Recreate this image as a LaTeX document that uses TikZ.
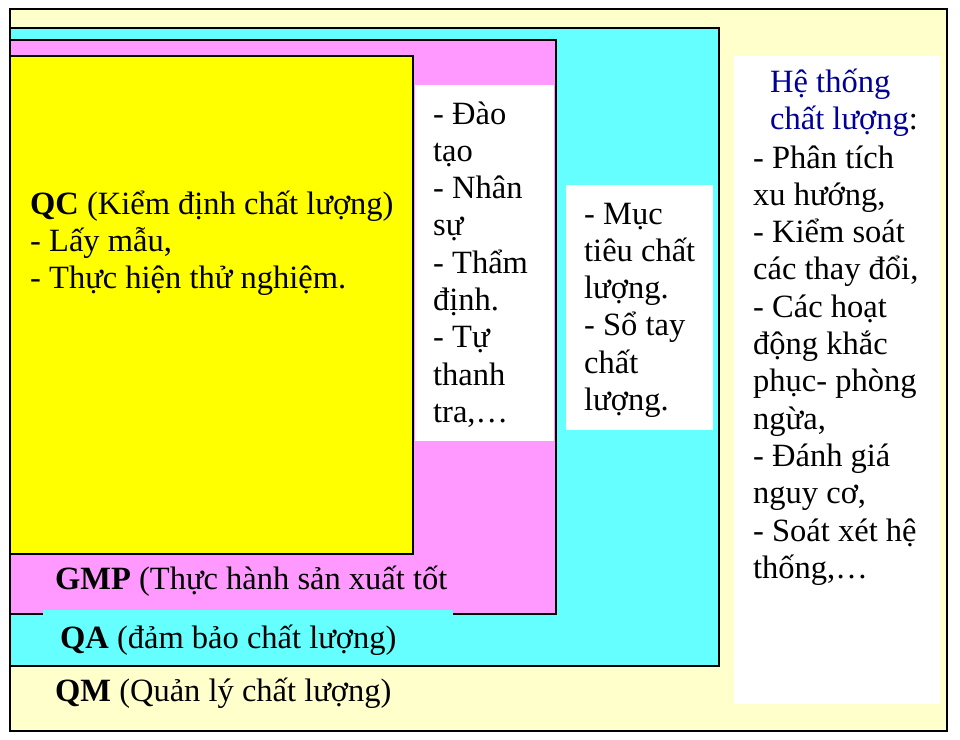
\documentclass[tikz,border=0pt]{standalone}
\usepackage{fontspec}
\setmainfont{Liberation Serif}
\definecolor{qmcol}{HTML}{FFFFCC}
\definecolor{qacol}{HTML}{66FFFF}
\definecolor{gmpcol}{HTML}{FF99FF}
\definecolor{qccol}{HTML}{FFFF00}
\definecolor{htcol}{HTML}{000099}

\begin{document}
\begin{tikzpicture}[x=1pt, y=-1pt,
  txt/.style={anchor=base west, align=left, inner sep=0pt, font=\fontsize{32.5}{37.3}\selectfont},
  frame/.style={draw=black, line width=1.6pt}]
  \useasboundingbox (0,0) rectangle (960,739);
  \filldraw[frame, fill=qmcol, line width=2pt] (10,9) rectangle (947,731);
  \filldraw[frame, fill=qacol] (10,28) rectangle (719,666);
  \filldraw[frame, fill=gmpcol] (10,40) rectangle (556,614);
  \filldraw[frame, fill=qccol] (10,56) rectangle (413,554);
  \fill[white] (415,85) rectangle (554,441);
  \fill[white] (566,185) rectangle (713,430);
  \fill[white] (734,56) rectangle (940,704);
  \fill[qacol] (43,610) rectangle (453,665);

  \node[txt] (QC) at (30,288.6) {\textbf{QC} (Kiểm định chất lượng)\\- Lấy mẫu,\\- Thực hiện thử nghiệm.};
  \node[txt] (GMPlist) at (433,422.4) {- Đào\\tạo\\- Nhân\\sự\\- Thẩm\\định.\\- Tự\\thanh\\tra,…};
  \node[txt] (QAlist) at (584,410.5) {- Mục\\tiêu chất\\lượng.\\- Sổ tay\\chất\\lượng.};
  \node[txt, text=htcol] (HT) at (770,129.3) {Hệ thống\\chất lượng{\color{black}:}};
  \node[txt] (HTlist) at (753,578.3) {- Phân tích\\xu hướng,\\- Kiểm soát\\các thay đổi,\\- Các hoạt\\động khắc\\phục- phòng\\ngừa,\\- Đánh giá\\nguy cơ,\\- Soát xét hệ\\thống,…};
  \node[txt] (GMP) at (55,589) {\textbf{GMP} (Thực hành sản xuất tốt};
  \node[txt] (QA) at (60,648) {\textbf{QA} (đảm bảo chất lượng)};
  \node[txt] (QM) at (55,701) {\textbf{QM} (Quản lý chất lượng)};
\end{tikzpicture}
\end{document}
